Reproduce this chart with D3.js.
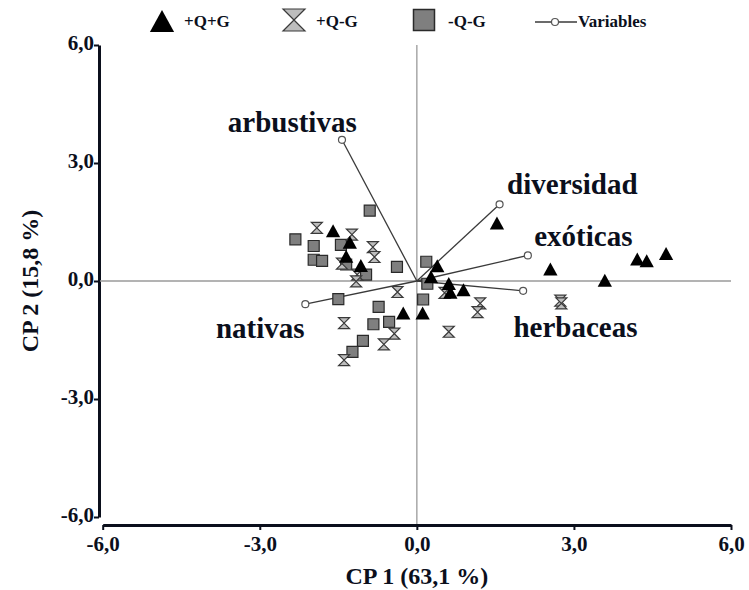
<!DOCTYPE html>
<html>
<head>
<meta charset="utf-8">
<script src="https://cdn.jsdelivr.net/npm/d3@7"></script>
<style>
  body { margin: 0; background: #fff; }
  text { font-family: "Liberation Serif", "Times New Roman", serif; font-weight: bold; fill: #0b0f1c; }
</style>
</head>
<body>
<svg id="chart" width="749" height="590"></svg>
<script>
// ---- datos (CP1, CP2) ----
const grupoQG   = [[-1.60,1.26],[-1.28,0.97],[-1.35,0.61],[-1.07,0.38],[0.39,0.37],[0.27,0.09],
                   [0.61,-0.08],[0.64,-0.30],[0.89,-0.24],[-0.26,-0.83],[0.11,-0.83],[1.53,1.46],
                   [2.55,0.29],[3.59,0.00],[4.21,0.54],[4.39,0.50],[4.76,0.68]];
const grupoQnoG = [[-1.91,1.35],[-1.24,1.18],[-0.84,0.86],[-0.81,0.61],[-1.43,0.44],[-1.14,0.16],
                   [-1.16,-0.01],[-0.37,-0.28],[-1.39,-1.07],[-0.43,-1.34],[-0.63,-1.61],[-1.39,-2.01],
                   [0.61,-1.29],[0.53,-0.30],[1.21,-0.57],[1.16,-0.79],[2.74,-0.50],[2.76,-0.57]];
const grupoNoQG = [[-0.90,1.79],[-2.32,1.06],[-1.97,0.89],[-1.45,0.92],[-1.97,0.54],[-1.81,0.51],
                   [-1.35,0.42],[-0.97,0.16],[-0.38,0.36],[0.18,0.49],[0.20,-0.07],[-1.50,-0.46],
                   [0.12,-0.47],[-0.73,-0.66],[-0.83,-1.10],[-0.53,-1.04],[-1.03,-1.52],[-1.23,-1.80]];
const variables = ["arbustivas", "diversidad", "exóticas", "herbaceas", "nativas"];
const cargas    = [[-1.43,3.59],[1.58,1.95],[2.12,0.65],[2.03,-0.25],[-2.13,-0.59]];
const etiquetas = [[-2.38,3.80],[2.97,2.20],[3.18,0.88],[3.03,-1.43],[-2.99,-1.45]]; // posición del texto
const ticks     = [-6, -3, 0, 3, 6];
const leyenda   = ["+Q+G", "+Q-G", "-Q-G", "Variables"];

const svg = d3.select("#chart");
const x = d3.scaleLinear().domain([-6, 6]).range([102.7, 731]);
const y = d3.scaleLinear().domain([-6, 6]).range([517, 45]);
const fmt = d => d.toFixed(1).replace(".", ",");

// ejes
const gy = svg.append("g").attr("transform", "translate(99,0)")
  .call(d3.axisLeft(y).tickValues(ticks).tickFormat(fmt).tickSize(5).tickSizeOuter(0));
const gx = svg.append("g").attr("transform", "translate(0,525)")
  .call(d3.axisBottom(x).tickValues(ticks).tickFormat(fmt).tickSize(5).tickSizeOuter(0));
[gx, gy].forEach(g => {
  g.select(".domain").attr("stroke", "#0b0f1c").attr("stroke-width", 3);
  g.selectAll(".tick line").attr("stroke", "#0b0f1c").attr("stroke-width", 2);
  g.selectAll(".tick text").style("font-size", "21px").attr("fill", "#0b0f1c");
});
gy.selectAll(".tick text").attr("x", -5).attr("dy", "0.2em");
gx.selectAll(".tick text").attr("y", 9).attr("dy", "0.8em");

// líneas de referencia en cero
svg.append("line").attr("x1", x(0)).attr("x2", x(0)).attr("y1", y(6)).attr("y2", 524)
  .attr("stroke", "#9a9a9a").attr("stroke-width", 1.3);
svg.append("line").attr("x1", 100).attr("x2", x(6)).attr("y1", y(0)).attr("y2", y(0))
  .attr("stroke", "#9a9a9a").attr("stroke-width", 1.3);

// títulos
svg.append("text").attr("x", x(0)).attr("y", 584).attr("text-anchor", "middle")
  .style("font-size", "24px").text("CP 1 (63,1 %)");
svg.append("text").attr("transform", `translate(38,${y(0)}) rotate(-90)`).attr("text-anchor", "middle")
  .style("font-size", "24px").text("CP 2 (15,8 %)");

// símbolos
const tri = s => `M0,${-s*0.55}L${s*0.55},${s*0.45}L${-s*0.55},${s*0.45}Z`;
const reloj = s => `M${-s/2},${-s/2}L${s/2},${-s/2}L${-s/2},${s/2}L${s/2},${s/2}Z`;
const cuad = s => `M${-s/2},${-s/2}h${s}v${s}h${-s}Z`;

// vectores de variables
const vec = svg.append("g");
cargas.forEach((c, i) => {
  vec.append("line").attr("x1", x(0)).attr("y1", y(0)).attr("x2", x(c[0])).attr("y2", y(c[1]))
    .attr("stroke", "#3a3a3a").attr("stroke-width", 1.3);
});

const pts = svg.append("g");
pts.selectAll(".sq").data(grupoNoQG).join("path")
  .attr("transform", d => `translate(${x(d[0])},${y(d[1])})`)
  .attr("d", cuad(11)).attr("fill", "#7f7f7f").attr("stroke", "#2a2a2a").attr("stroke-width", 1.2);
pts.selectAll(".hg").data(grupoQnoG).join("path")
  .attr("transform", d => `translate(${x(d[0])},${y(d[1])})`)
  .attr("d", reloj(11)).attr("fill", "#bdbdbd").attr("stroke", "#3a3a3a").attr("stroke-width", 1.2);
pts.selectAll(".tr").data(grupoQG).join("path")
  .attr("transform", d => `translate(${x(d[0])},${y(d[1])})`)
  .attr("d", tri(13)).attr("fill", "#000");

cargas.forEach((c, i) => {
  vec.append("circle").attr("cx", x(c[0])).attr("cy", y(c[1])).attr("r", 3.5)
    .attr("fill", "#fff").attr("stroke", "#555").attr("stroke-width", 1.2);
  svg.append("text").attr("x", x(etiquetas[i][0])).attr("y", y(etiquetas[i][1]))
    .attr("text-anchor", "middle").style("font-size", "29px").text(variables[i]);
});

// leyenda
const lg = svg.append("g");
lg.append("path").attr("transform", "translate(162,22)").attr("d", tri(22)).attr("fill", "#000");
lg.append("path").attr("transform", "translate(294,20)").attr("d", reloj(22))
  .attr("fill", "#bdbdbd").attr("stroke", "#3a3a3a").attr("stroke-width", 1.2);
lg.append("path").attr("transform", "translate(424,20)").attr("d", cuad(21))
  .attr("fill", "#7f7f7f").attr("stroke", "#2a2a2a").attr("stroke-width", 1.5);
lg.append("line").attr("x1", 535).attr("x2", 577).attr("y1", 22).attr("y2", 22)
  .attr("stroke", "#3a3a3a").attr("stroke-width", 1.3);
lg.append("circle").attr("cx", 555).attr("cy", 22).attr("r", 3.5)
  .attr("fill", "#fff").attr("stroke", "#555").attr("stroke-width", 1.2);
const lx = [184, 316, 448, 578];
leyenda.forEach((t, i) => {
  lg.append("text").attr("x", lx[i]).attr("y", 27).style("font-size", "17px").text(t);
});
</script>
</body>
</html>
